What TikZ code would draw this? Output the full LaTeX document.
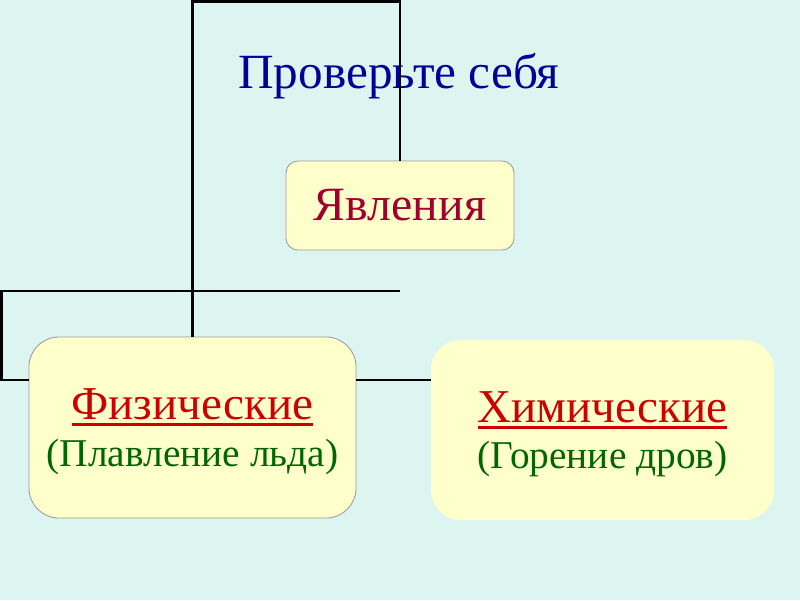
\documentclass[tikz,border=0pt]{standalone}
\usepackage{fontspec}
\setmainfont{Liberation Serif}

\definecolor{bgcyan}{RGB}{221,245,240}
\definecolor{boxyellow}{RGB}{255,255,204}
\definecolor{titleblue}{RGB}{0,0,153}
\definecolor{darkcrimson}{RGB}{160,0,45}
\definecolor{headred}{RGB}{204,0,0}
\definecolor{notegreen}{RGB}{0,102,0}

% thick underline in the colour of the text
\newcommand{\thickul}[1]{\leavevmode\setbox0\hbox{#1}\rlap{\rule[-4.5pt]{\wd0}{2.2pt}}\box0}

\begin{document}
\begin{tikzpicture}[x=0.025cm, y=-0.025cm,
    wire/.style={line width=1.5pt, black},
    panel/.style={rounded corners=30*0.025cm, fill=boxyellow, align=center,
      inner sep=0pt}]
  % Background
  \fill[bgcyan] (0,0) rectangle (800,600);
  \useasboundingbox (0,0) rectangle (800,600);

  % Title
  \node[anchor=base, text=titleblue, font=\fontsize{35}{42}\selectfont]
    (title) at (399,88) {Проверьте себя};

  % Boxes
  \node[panel, draw=gray!80, line width=0.6pt, rounded corners=12*0.025cm,
    minimum width=5.7cm, minimum height=2.225cm,
    text=darkcrimson, font=\fontsize{34}{40}\selectfont]
    (yav) at (400,205.5) {Явления};
  \node[panel, draw=gray!80, line width=0.6pt,
    minimum width=8.175cm, minimum height=4.525cm]
    (phys) at (192.5,427.5)
    {\fontsize{33.5}{36}\selectfont\color{headred}\rule{0pt}{28pt}\thickul{Физические}\\[8pt]
     \fontsize{28}{34}\selectfont\color{notegreen}(Плавление льда)};
  \node[panel, minimum width=8.575cm, minimum height=4.5cm]
    (chem) at (602.5,430)
    {\fontsize{33.5}{36}\selectfont\color{headred}\rule{0pt}{28pt}\thickul{Химические}\\[8pt]
     \fontsize{28}{34}\selectfont\color{notegreen}(Горение дров)};

  % Connectors
  \coordinate (topr) at (400,1.5);
  \coordinate (midr) at (400,291);
  \coordinate (midl) at (1.5,291);
  \coordinate (lvl) at (0,380);
  \draw[wire] (phys.north) |- (topr) -- (yav.north);
  \draw[wire] (midr) -- (midl) |- (phys.west |- lvl);
  \draw[wire] (phys.east |- lvl) -- (chem.west |- lvl);
\end{tikzpicture}
\end{document}
